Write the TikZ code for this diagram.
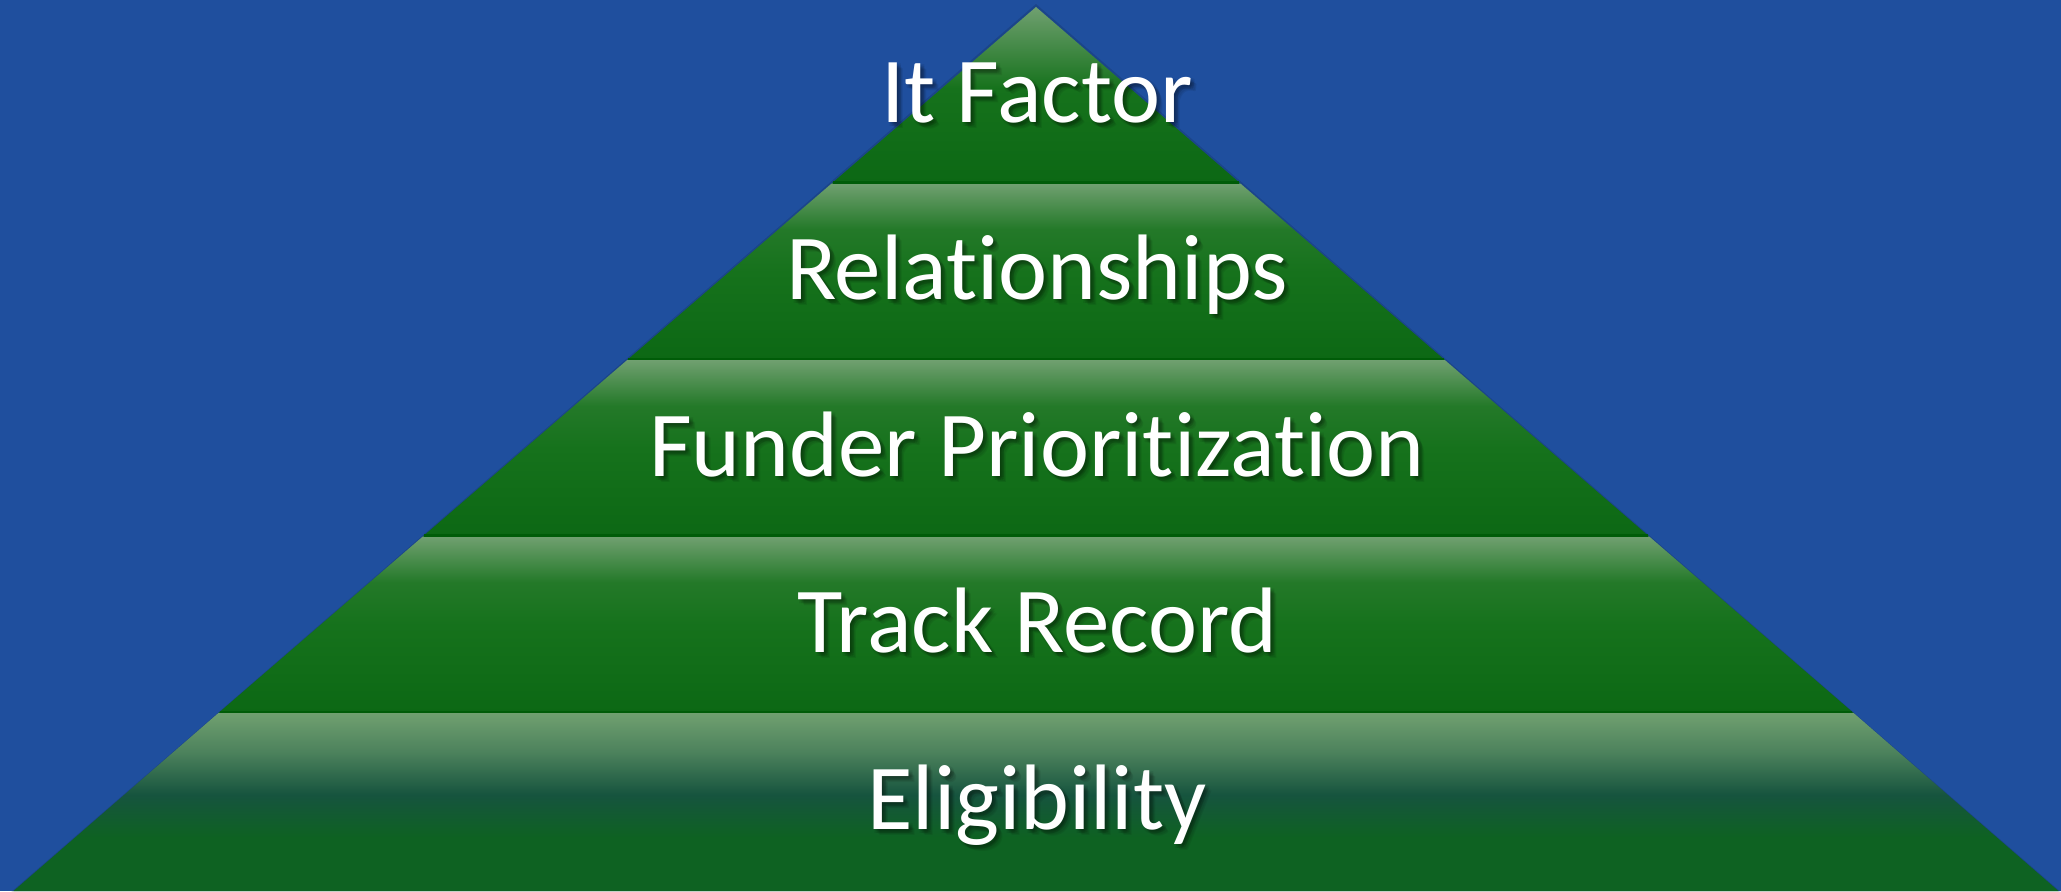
\documentclass[tikz,border=0pt]{standalone}
\usepackage{fontspec}
\setmainfont{Carlito}[Ligatures={NoCommon}]
\definecolor{bgblue}{RGB}{31,79,158}
\definecolor{gtop}{RGB}{112,160,112}
\definecolor{gmid}{RGB}{22,114,28}
\definecolor{gbot}{RGB}{12,104,20}
\definecolor{gline}{RGB}{0,92,8}
\definecolor{teal}{RGB}{22,84,62}
\definecolor{gbase}{RGB}{14,98,34}
\pgfdeclareverticalshading{layershade}{100bp}{color(0bp)=(gbot); color(25bp)=(gbot); color(50bp)=(gmid); color(62bp)=(gmid!85!gtop); color(75bp)=(gtop); color(100bp)=(gtop)}
\pgfdeclareverticalshading{topshade}{100bp}{color(0bp)=(gbot); color(25bp)=(gbot); color(52bp)=(gmid); color(75bp)=(gtop); color(100bp)=(gtop)}
\pgfdeclareverticalshading{baseshade}{100bp}{color(0bp)=(gbase); color(25bp)=(gbase); color(40bp)=(gbase); color(52bp)=(teal); color(64bp)=(gtop!60!teal); color(75bp)=(gtop); color(100bp)=(gtop)}
\tikzset{
  layer/.style={shading=layershade},
  lbl/.style={text=white, anchor=base, inner sep=0pt, font=\fontsize{46.5}{56}\selectfont},
  shd/.style={text=black, opacity=0.07, anchor=base, inner sep=0pt, font=\fontsize{46.5}{56}\selectfont},
  sep/.style={draw=gline, line width=1.2pt}
}
\begin{document}
\begin{tikzpicture}[x=0.5pt,y=-0.5pt]
\fill[bgblue] (0,0) rectangle (2061,891);
\useasboundingbox (0,0) rectangle (2061,891);
% subtle edge shadow
\fill[black, opacity=0.12] (1036,4) -- (1036-1026,893) -- (1036+1026,893) -- cycle;
% layers
\shade[shading=topshade] (1036,7) -- (831.6,183.5) -- (1240.4,183.5) -- cycle;
\shade[layer] (831.6,183.5) -- (627.2,360) -- (1444.8,360) -- (1240.4,183.5) -- cycle;
\shade[layer] (627.2,360) -- (422.8,536.5) -- (1649.2,536.5) -- (1444.8,360) -- cycle;
\shade[layer] (422.8,536.5) -- (218.4,713) -- (1853.6,713) -- (1649.2,536.5) -- cycle;
\shade[shading=baseshade] (218.4,713) -- (13.5,891) -- (2058.5,891) -- (1853.6,713) -- cycle;
% separator lines
\draw[sep] (832.8,182.5) -- (1239.2,182.5);
\draw[sep] (628.4,359) -- (1443.6,359);
\draw[sep] (424,535.5) -- (1648,535.5);
\draw[sep] (219.6,712) -- (1852.4,712);
% text shadows (soft)
\foreach \dx/\dy in {2/2,3/4,4/3,5/5,1/4,4/1,6/6}{
  \node[shd] at (1037+\dx,122+\dy) {It Factor};
  \node[shd] at (1037+\dx,299+\dy) {Relationships};
  \node[shd] at (1037+\dx,476+\dy) {Funder Prioritization};
  \node[shd] at (1037+\dx,652+\dy) {Track Record};
  \node[shd] at (1037+\dx,829+\dy) {Eligibility};
}
% labels
\node[lbl] (l5) at (1037,122) {It Factor};
\node[lbl] (l4) at (1037,299) {Relationships};
\node[lbl] (l3) at (1037,476) {Funder Prioritization};
\node[lbl] (l2) at (1037,652) {Track Record};
\node[lbl] (l1) at (1037,829) {Eligibility};
\end{tikzpicture}
\end{document}
